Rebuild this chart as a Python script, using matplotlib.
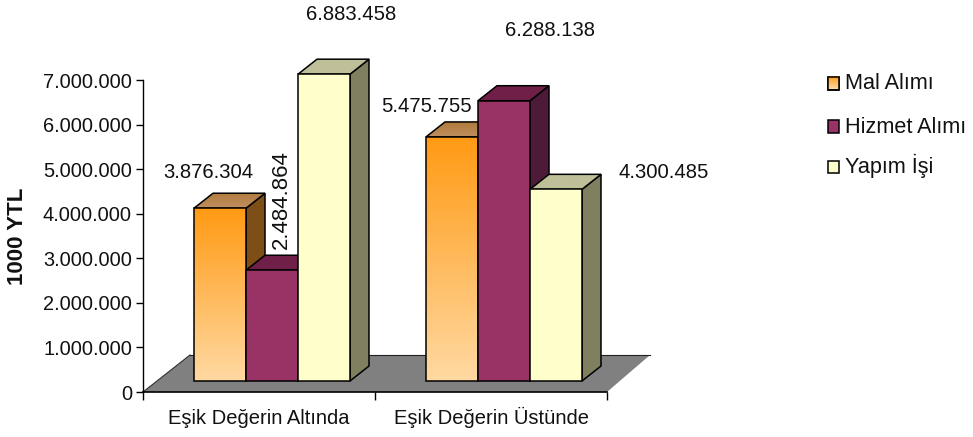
#!/usr/bin/env python3
import numpy as np
import matplotlib
matplotlib.use('Agg')
import matplotlib.pyplot as plt
from matplotlib.colors import LinearSegmentedColormap
from matplotlib.patches import Polygon, Rectangle

plt.rcParams['font.family'] = ['Liberation Sans', 'DejaVu Sans']

categories = ['Eşik Değerin Altında', 'Eşik Değerin Üstünde']
series = ['Mal Alımı', 'Hizmet Alımı', 'Yapım İşi']
mal = [3876304, 5475755]
hizmet = [2484864, 6288138]
yapim = [6883458, 4300485]
yticks = [0, 1000000, 2000000, 3000000, 4000000, 5000000, 6000000, 7000000]

W, H = 973, 437
fig = plt.figure(figsize=(W / 100, H / 100), dpi=100)
ax = fig.add_axes([143 / W, 1 - 392 / H, 464 / W, 312 / H])
ax.set_xlim(0, 2)
ax.set_ylim(0, 7000000)

# pixel -> dato
px_x = 2 / 464
px_y = 7000000 / 312


def fmt(v):
    return f'{v:,}'.replace(',', '.')


def poly(points, **kw):
    return ax.add_patch(Polygon(points, closed=True, clip_on=False, **kw))


def gradient(c1, c2, extent, clip, z):
    cmap = LinearSegmentedColormap.from_list('g', [c1, c2])
    im = ax.imshow(np.linspace(0, 1, 128).reshape(-1, 1), cmap=cmap, aspect='auto',
                   extent=extent, origin='upper', zorder=z)
    im.set_clip_path(clip)
    return im


# Piso gris
dep_y = 37 * px_y
poly([(0, 0), (2, 0), (2 + 43 * px_x, dep_y), (47 * px_x, dep_y)],
     facecolor='#808080', edgecolor='none', zorder=1)
ax.plot([0, 47 * px_x], [0, dep_y], color='#303030', lw=0.8, clip_on=False, zorder=2)
ax.plot([47 * px_x, 2 + 43 * px_x], [dep_y, dep_y], color='#202020', lw=0.8, clip_on=False, zorder=2)
ax.plot([0, 2], [0, 0], color='black', lw=1.2, clip_on=False, zorder=2)

# Barras 3D
bar_w = 52 * px_x
base = 11 * px_y
off_x = 13 * px_x
side_x, side_y = 19 * px_x, 15 * px_y
styles = [
    {'top': '#FF9A14', 'bot': '#FFD9A2', 'side': '#7D4E16', 'roof1': '#B07A3C', 'roof2': '#C09060'},
    {'top': '#993366', 'bot': '#993366', 'side': '#4D1A38', 'roof1': '#702048', 'roof2': '#702048'},
    {'top': '#FFFFCC', 'bot': '#FFFFCC', 'side': '#808060', 'roof1': '#BFBF99', 'roof2': '#BFBF99'},
]

z = 3
for g in range(2):
    for i, vals in enumerate([mal, hizmet, yapim]):
        s = styles[i]
        x0 = g + 0.5 + off_x + (i - 1.5) * bar_w
        x1 = x0 + bar_w
        y1 = base + vals[g]
        poly([(x1, base), (x1 + side_x, base + side_y), (x1 + side_x, y1 + side_y), (x1, y1)],
             facecolor=s['side'], edgecolor='black', lw=1.1, zorder=z)
        roof = poly([(x0, y1), (x1, y1), (x1 + side_x, y1 + side_y), (x0 + side_x, y1 + side_y)],
                    facecolor=s['roof1'], edgecolor='none', zorder=z)
        gradient(s['roof1'], s['roof2'], [x0, x1 + side_x, y1, y1 + side_y], roof, z + 0.1)
        poly([(x0, y1), (x1, y1), (x1 + side_x, y1 + side_y), (x0 + side_x, y1 + side_y)],
             facecolor='none', edgecolor='black', lw=1.1, zorder=z + 0.2)
        front = ax.bar(x0, vals[g], bar_w, bottom=base, align='edge', color=s['top'],
                       edgecolor='none', clip_on=False, zorder=z + 0.3)[0]
        gradient(s['top'], s['bot'], [x0, x1, base, y1], front, z + 0.4)
        ax.bar(x0, vals[g], bar_w, bottom=base, align='edge', facecolor='none',
               edgecolor='black', lw=1.1, clip_on=False, zorder=z + 0.5)
        z += 1

ax.set_xlim(0, 2)
ax.set_ylim(0, 7000000)

# Ejes
for sp in ['top', 'right', 'bottom']:
    ax.spines[sp].set_visible(False)
ax.spines['left'].set_linewidth(1.0)
ax.set_yticks(yticks)
ax.set_yticklabels([fmt(v) for v in yticks], fontsize=14.4, color='#111111')
ax.tick_params(axis='y', length=5, width=1, pad=3)
ax.set_xticks([0, 1, 2])
ax.set_xticklabels(['', '', ''])
ax.tick_params(axis='x', length=6, width=1, color='black')

# Capa en pixeles para textos y leyenda
top = fig.add_axes([0, 0, 1, 1], facecolor='none')
top.axis('off')

top.text(17.5, 236, '1000 YTL', rotation=90, ha='center', va='center',
         fontsize=16, fontweight='bold', color='#111111')

for name, cx in zip(categories, [258.5, 491.5]):
    top.text(cx, 424, name, ha='center', va='baseline', fontsize=14.5, color='#111111')

label_pos = {
    (0, 0): (208, 173, 0), (0, 1): (281, 200, 90), (0, 2): (351, 15, 0),
    (1, 0): (426, 107, 0), (1, 1): (550, 31, 0), (1, 2): (663.5, 172, 0),
}
for i, vals in enumerate([mal, hizmet, yapim]):
    for g in range(2):
        lx, ly, rot = label_pos[(g, i)]
        top.text(lx, ly, fmt(vals[g]), ha='center', va='center', rotation=rot,
                 fontsize=16 if rot else 14.6, color='#111111')

# Leyenda
leg_y = [77, 120, 160.5]
leg_base = [89, 133, 173]
cmap = LinearSegmentedColormap.from_list('leg', ['#FF9A14', '#FFD9A2'])
for name, ly, by, st in zip(series, leg_y, leg_base, styles):
    top.add_patch(Rectangle((827.5, ly), 11, 12.5, facecolor=st['top'], edgecolor='black', lw=1.1, zorder=3))
    top.text(845, by, name, ha='left', va='baseline', fontsize=15.6, color='#111111')
top.imshow(np.linspace(0, 1, 32).reshape(-1, 1), cmap=cmap, aspect='auto',
           extent=[827.5, 838.5, leg_y[0] + 12.5, leg_y[0]], zorder=3.5)
top.add_patch(Rectangle((827.5, leg_y[0]), 11, 12.5, facecolor='none', edgecolor='black', lw=1.1, zorder=4))
top.set_xlim(0, W)
top.set_ylim(H, 0)

fig.savefig('out.png', dpi=100)
